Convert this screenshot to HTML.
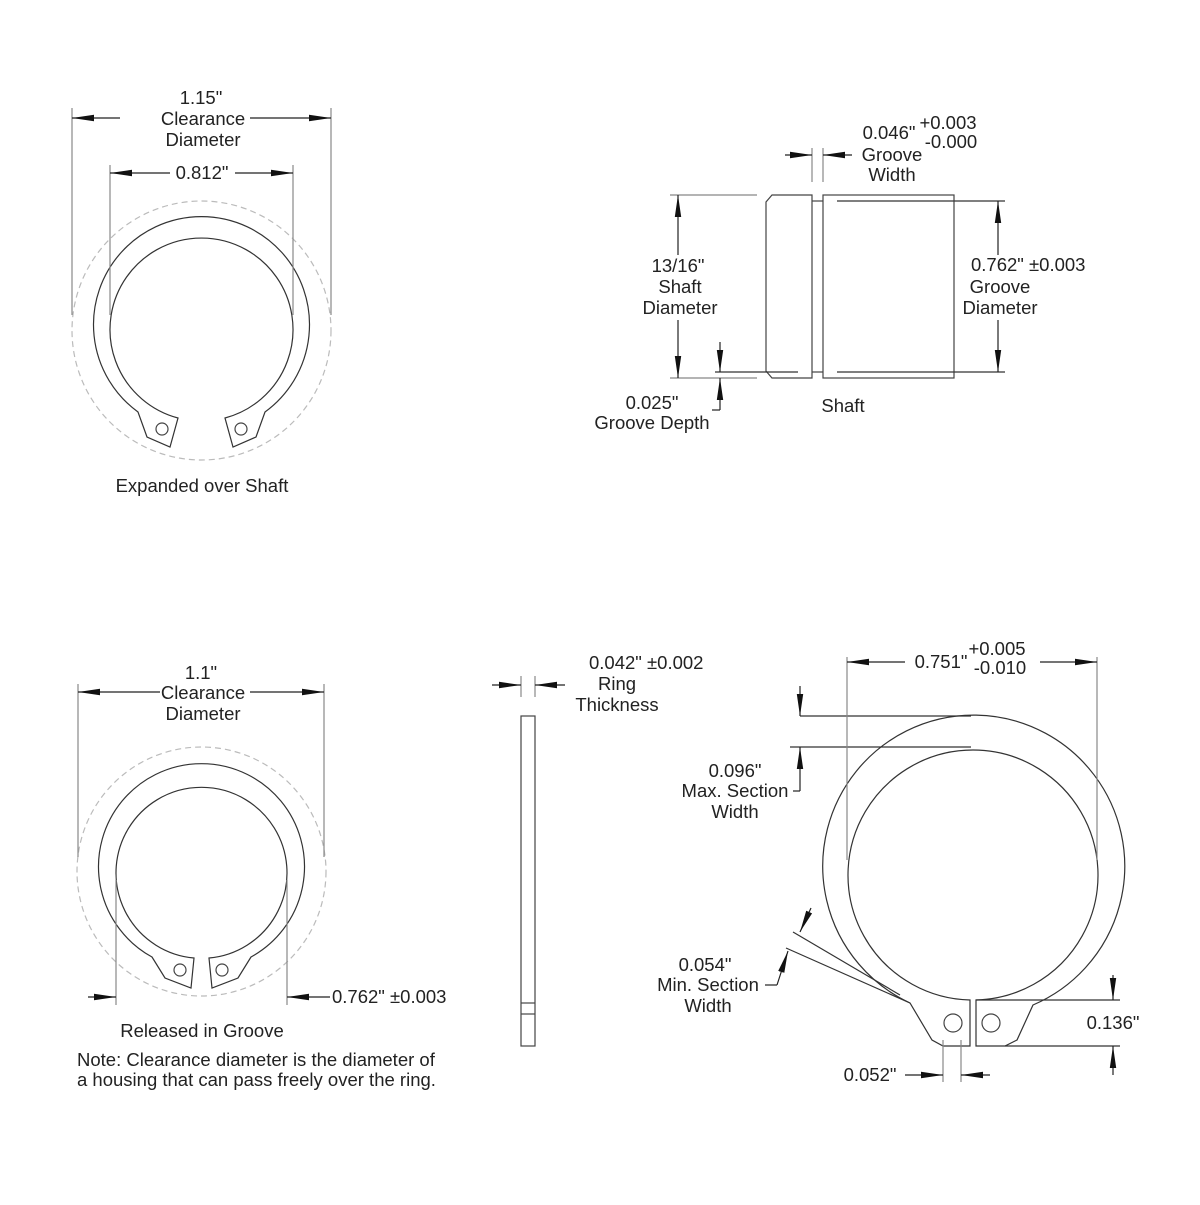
<!DOCTYPE html>
<html><head><meta charset="utf-8"><style>
html,body{margin:0;padding:0;background:#fff}
svg text{font-family:"Liberation Sans",Arial,sans-serif;font-size:18.5px;fill:#222}
</style></head><body>
<svg width="1200" height="1200" viewBox="0 0 1200 1200" xmlns="http://www.w3.org/2000/svg">
<defs>
<marker id="a" viewBox="0 0 10 10" refX="10" refY="5" markerWidth="22" markerHeight="8" markerUnits="userSpaceOnUse" orient="auto" preserveAspectRatio="none"><path d="M0,1 L10,5 L0,9 z" fill="#111"/></marker>
</defs>
<g fill="none" stroke="#444" stroke-width="1.2">
<!-- TOP LEFT -->
<circle cx="201.5" cy="330.5" r="129.5" stroke="#bbb" stroke-dasharray="6,4"/>
<path d="M138,412 A108,108 0 1 1 265,412 L256,437 L233,447 L225,418 A91.5,91.5 0 1 0 178,418 L170,447 L147,437 Z" stroke="#333"/>
<circle cx="162" cy="429" r="6"/><circle cx="241" cy="429" r="6"/>
<g stroke="#888">
<line x1="72" y1="108" x2="72" y2="315"/><line x1="331" y1="108" x2="331" y2="315"/>
<line x1="110" y1="165" x2="110" y2="315"/><line x1="293" y1="165" x2="293" y2="315"/>
</g>
<line x1="120" y1="118" x2="72" y2="118" stroke="#222" marker-end="url(#a)"/>
<line x1="250" y1="118" x2="331" y2="118" stroke="#222" marker-end="url(#a)"/>
<line x1="170" y1="173" x2="110" y2="173" stroke="#222" marker-end="url(#a)"/>
<line x1="235" y1="173" x2="293" y2="173" stroke="#222" marker-end="url(#a)"/>

<!-- SHAFT -->
<path d="M772,195 L812,195 L812,378 L772,378 L766,371 L766,202 Z"/>
<rect x="823" y="195" width="131" height="183"/>
<line x1="812" y1="201" x2="823" y2="201"/><line x1="812" y1="372" x2="823" y2="372"/>
<g stroke="#333">
<line x1="837" y1="201" x2="1005" y2="201"/><line x1="837" y1="372" x2="1005" y2="372"/>
<line x1="715" y1="372" x2="798" y2="372"/>
</g>
<g stroke="#888">
<line x1="670" y1="195" x2="757" y2="195"/><line x1="670" y1="378" x2="757" y2="378"/>
<line x1="812" y1="148" x2="812" y2="182"/><line x1="823" y1="148" x2="823" y2="182"/>
</g>
<line x1="678" y1="255" x2="678" y2="195" stroke="#222" marker-end="url(#a)"/>
<line x1="678" y1="320" x2="678" y2="378" stroke="#222" marker-end="url(#a)"/>
<line x1="720" y1="342" x2="720" y2="372" stroke="#222" marker-end="url(#a)"/>
<line x1="720" y1="410" x2="720" y2="378" stroke="#222" marker-end="url(#a)"/>
<line x1="720" y1="410" x2="712" y2="410" stroke="#222"/>
<line x1="785" y1="155" x2="812" y2="155" stroke="#222" marker-end="url(#a)"/>
<line x1="852" y1="155" x2="823" y2="155" stroke="#222" marker-end="url(#a)"/>
<line x1="998" y1="255" x2="998" y2="201" stroke="#222" marker-end="url(#a)"/>
<line x1="998" y1="320" x2="998" y2="372" stroke="#222" marker-end="url(#a)"/>

<!-- BOTTOM LEFT -->
<circle cx="201.5" cy="871.5" r="124.5" stroke="#bbb" stroke-dasharray="6,4"/>
<path d="M152,957 A103,103 0 1 1 251,957 L238,978 L212,988 L209,958 A85.5,85.5 0 1 0 194,958 L191,988 L165,978 Z" stroke="#333"/>
<circle cx="180" cy="970" r="6"/><circle cx="222" cy="970" r="6"/>
<g stroke="#888">
<line x1="78" y1="684" x2="78" y2="857"/><line x1="324" y1="684" x2="324" y2="857"/>
<line x1="116" y1="880" x2="116" y2="1005"/><line x1="287" y1="880" x2="287" y2="1005"/>
</g>
<line x1="160" y1="692" x2="78" y2="692" stroke="#222" marker-end="url(#a)"/>
<line x1="250" y1="692" x2="324" y2="692" stroke="#222" marker-end="url(#a)"/>
<line x1="88" y1="997" x2="116" y2="997" stroke="#222" marker-end="url(#a)"/>
<line x1="330" y1="997" x2="287" y2="997" stroke="#222" marker-end="url(#a)"/>

<!-- RING SIDE -->
<rect x="521" y="716" width="14" height="330"/>
<line x1="521" y1="1003" x2="535" y2="1003"/><line x1="521" y1="1014" x2="535" y2="1014"/>
<g stroke="#888"><line x1="521" y1="676" x2="521" y2="697"/><line x1="535" y1="676" x2="535" y2="697"/></g>
<line x1="492" y1="685" x2="521" y2="685" stroke="#222" marker-end="url(#a)"/>
<line x1="565" y1="685" x2="535" y2="685" stroke="#222" marker-end="url(#a)"/>

<!-- BIG RING -->
<path d="M910,1003 A151,151 0 1 1 1033,1005 L1017,1040 L1005,1046 L976,1046 L976,1000 A125,125 0 1 0 970,1000 L970,1046 L943,1046 L932,1040 Z" stroke="#333"/>
<circle cx="953" cy="1023" r="9"/><circle cx="991" cy="1023" r="9"/>
<g stroke="#333">
<line x1="793" y1="932" x2="900" y2="995"/><line x1="786" y1="948" x2="910" y2="1003"/>
<line x1="800" y1="716" x2="971" y2="716"/><line x1="790" y1="747" x2="971" y2="747"/>
<line x1="976" y1="1000" x2="1120" y2="1000"/><line x1="1005" y1="1046" x2="1120" y2="1046"/>
</g>
<g stroke="#888">
<line x1="847" y1="657" x2="847" y2="860"/><line x1="1097" y1="657" x2="1097" y2="860"/>
<line x1="943" y1="1040" x2="943" y2="1082"/><line x1="961" y1="1040" x2="961" y2="1082"/>
</g>
<line x1="905" y1="662" x2="847" y2="662" stroke="#222" marker-end="url(#a)"/>
<line x1="1040" y1="662" x2="1097" y2="662" stroke="#222" marker-end="url(#a)"/>
<line x1="800" y1="686" x2="800" y2="716" stroke="#222" marker-end="url(#a)"/>
<line x1="800" y1="791" x2="800" y2="747" stroke="#222" marker-end="url(#a)"/>
<line x1="800" y1="791" x2="793" y2="791" stroke="#222"/>
<line x1="811" y1="908" x2="800" y2="932" stroke="#222" marker-end="url(#a)"/>
<line x1="777" y1="985" x2="788" y2="951" stroke="#222" marker-end="url(#a)"/>
<line x1="777" y1="985" x2="765" y2="985" stroke="#222"/>
<line x1="1113" y1="975" x2="1113" y2="1000" stroke="#222" marker-end="url(#a)"/>
<line x1="1113" y1="1075" x2="1113" y2="1046" stroke="#222" marker-end="url(#a)"/>
<line x1="905" y1="1075" x2="943" y2="1075" stroke="#222" marker-end="url(#a)"/>
<line x1="990" y1="1075" x2="961" y2="1075" stroke="#222" marker-end="url(#a)"/>
</g>

<g text-anchor="middle">
<text x="201" y="104">1.15"</text>
<text x="203" y="125">Clearance</text>
<text x="203" y="146">Diameter</text>
<text x="202" y="179">0.812"</text>
<text x="202" y="492">Expanded over Shaft</text>
<text x="889" y="139">0.046"</text>
<text x="892" y="161">Groove</text>
<text x="892" y="181">Width</text>
<text x="678" y="272">13/16"</text>
<text x="680" y="293">Shaft</text>
<text x="680" y="314">Diameter</text>
<text x="1000" y="293">Groove</text>
<text x="1000" y="314">Diameter</text>
<text x="652" y="409">0.025"</text>
<text x="652" y="429">Groove Depth</text>
<text x="843" y="412">Shaft</text>
<text x="201" y="679">1.1"</text>
<text x="203" y="699">Clearance</text>
<text x="203" y="720">Diameter</text>
<text x="202" y="1037">Released in Groove</text>
<text x="617" y="690">Ring</text>
<text x="617" y="711">Thickness</text>
<text x="735" y="777">0.096"</text>
<text x="735" y="797">Max. Section</text>
<text x="735" y="818">Width</text>
<text x="705" y="971">0.054"</text>
<text x="708" y="991">Min. Section</text>
<text x="708" y="1012">Width</text>
<text x="948" y="129">+0.003</text>
<text x="951" y="148">-0.000</text>
<text x="941" y="668">0.751"</text>
<text x="997" y="655">+0.005</text>
<text x="1000" y="674">-0.010</text>
<text x="1113" y="1029">0.136"</text>
<text x="870" y="1081">0.052"</text>
</g>
<text x="971" y="271">0.762" ±0.003</text>
<text x="332" y="1003">0.762" ±0.003</text>
<text x="589" y="669">0.042" ±0.002</text>
<text x="77" y="1066">Note: Clearance diameter is the diameter of</text>
<text x="77" y="1086">a housing that can pass freely over the ring.</text>
</svg>
</body></html>
